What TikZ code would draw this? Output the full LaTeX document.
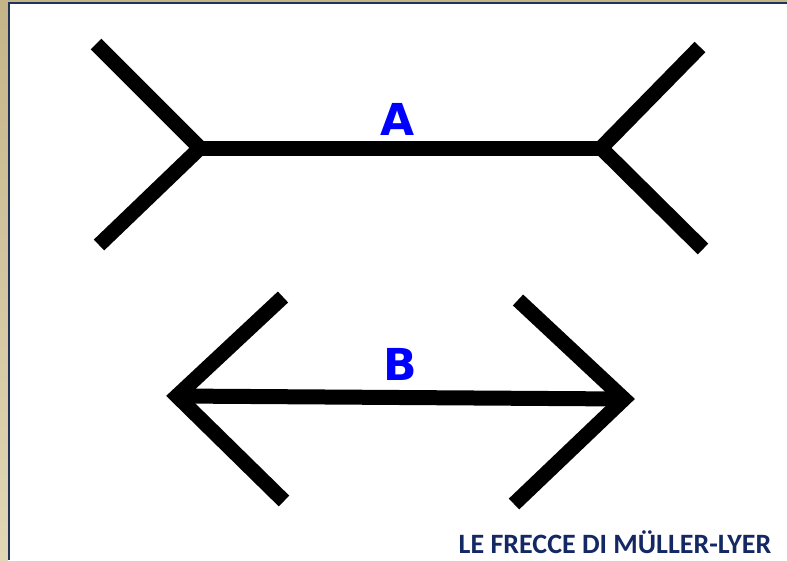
\documentclass[tikz,border=0pt]{standalone}
\usepackage{fontspec}
\newfontfamily\letterfont{DejaVu Sans}
\newfontfamily\titlefont{Carlito}
\usetikzlibrary{positioning}
\definecolor{framenavy}{RGB}{31,52,88}
\definecolor{tantop}{RGB}{196,180,136}
\definecolor{tanbot}{RGB}{226,216,182}
\definecolor{titlenavy}{RGB}{20,40,100}

\begin{document}
\begin{tikzpicture}[x=1pt,y=-1pt,every node/.style={inner sep=0pt},
  fin/.style={line width=15pt,line join=miter},
  shaft/.style={line width=15pt},
  letter/.style={font=\letterfont\bfseries\fontsize{44}{44}\selectfont,text=blue}]
\useasboundingbox (0,0) rectangle (787,560);
\fill[white] (0,0) rectangle (787,560);
\shade[top color=tantop,bottom color=tanbot] (0,0) rectangle (8,560);
\fill[tantop] (0,0) rectangle (787,2.4);
\fill[framenavy] (7.5,2.4) rectangle (10,560);
\fill[framenavy] (7.5,2.4) rectangle (787,3.8);
% figure A
\coordinate (a1) at (96,44);
\coordinate (a2) at (200,148);
\coordinate (a3) at (99,245);
\coordinate (a4) at (700,47);
\coordinate (a5) at (601,148);
\coordinate (a6) at (703,249);
\draw[fin] (a1)--(a2)--(a3);
\draw[fin] (a4)--(a5)--(a6);
\draw[shaft] (a2)--(a5);
% figure B
\coordinate (b1) at (283,297);
\coordinate (b2) at (177,396);
\coordinate (b3) at (284,501);
\coordinate (b4) at (518,300);
\coordinate (b5) at (624,399);
\coordinate (b6) at (514,504);
\draw[fin] (b1)--(b2)--(b3);
\draw[fin] (b4)--(b5)--(b6);
\draw[shaft] (b2)--(b5);
% labels
\node[letter] (la) at (398,119) {A};
\node[letter] (lb) at (400,364) {B};
\node[font=\titlefont\bfseries\fontsize{28}{32}\selectfont,text=titlenavy,text depth=0pt,anchor=base] (title) at (615,553) {LE FRECCE DI MÜLLER-LYER};
\end{tikzpicture}
\end{document}
